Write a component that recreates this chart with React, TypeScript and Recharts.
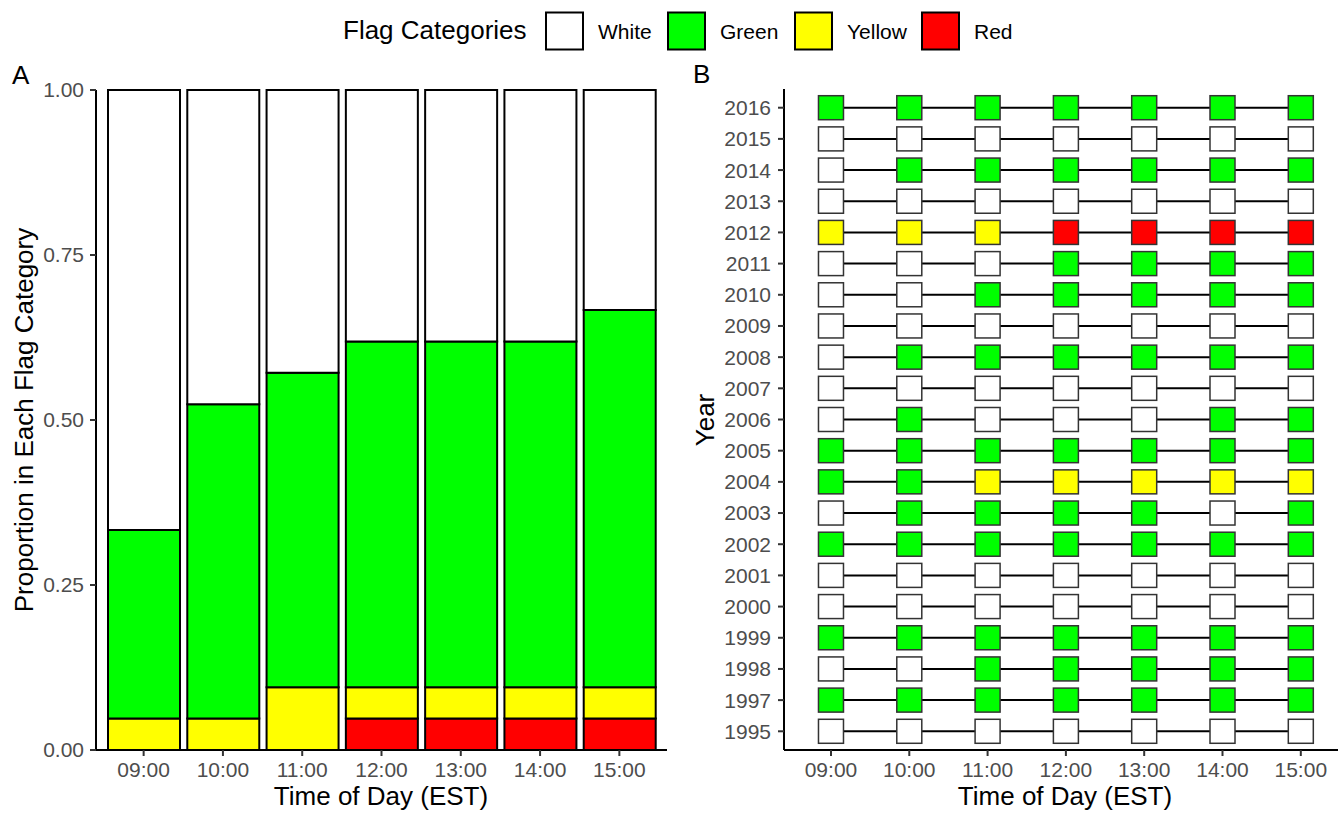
import { Bar, BarChart, Scatter, ScatterChart, XAxis, YAxis } from "recharts";

const times = ["09:00", "10:00", "11:00", "12:00", "13:00", "14:00", "15:00"];

const years = [
  "1995", "1997", "1998", "1999", "2000", "2001", "2002",
  "2003", "2004", "2005", "2006", "2007", "2008", "2009",
  "2010", "2011", "2012", "2013", "2014", "2015", "2016",
];

// one letter per hour of the day: W white, G green, Y yellow, R red
const flagRows = [
  "WWWWWWW", // 1995
  "GGGGGGG", // 1997
  "WWGGGGG", // 1998
  "GGGGGGG", // 1999
  "WWWWWWW", // 2000
  "WWWWWWW", // 2001
  "GGGGGGG", // 2002
  "WGGGGWG", // 2003
  "GGYYYYY", // 2004
  "GGGGGGG", // 2005
  "WGWWWGG", // 2006
  "WWWWWWW", // 2007
  "WGGGGGG", // 2008
  "WWWWWWW", // 2009
  "WWGGGGG", // 2010
  "WWWGGGG", // 2011
  "YYYRRRR", // 2012
  "WWWWWWW", // 2013
  "WGGGGGG", // 2014
  "WWWWWWW", // 2015
  "GGGGGGG", // 2016
];

const categories = ["White", "Green", "Yellow", "Red"];
const categoryCodes = ["W", "G", "Y", "R"];
const proportionTicks = [0, 0.25, 0.5, 0.75, 1];

const flagColors: Record<string, string> = {
  W: "#FFFFFF",
  G: "#00FF00",
  Y: "#FFFF00",
  R: "#FF0000",
};

const FONT = "'Liberation Sans', Arial, sans-serif";
const TICK = { fill: "#4D4D4D", fontSize: 21, fontFamily: FONT };
const AXIS_LINE = { stroke: "#000", strokeWidth: 2 };
const TICK_LINE = { stroke: "#333", strokeWidth: 2 };

const share = (i: number, code: string) =>
  flagRows.filter((row) => row[i] === code).length / flagRows.length;

const proportionData = times.map((time, i) => ({
  time,
  red: share(i, "R"),
  yellow: share(i, "Y"),
  green: share(i, "G"),
  white: share(i, "W"),
}));

const FlagSquare = (props: any) => {
  const { cx, cy, payload } = props;
  if (cx == null || cy == null) return null;
  return (
    <rect
      x={cx - 12.5}
      y={cy - 12}
      width={25}
      height={24}
      fill={flagColors[payload.flag]}
      stroke="#333"
      strokeWidth={1.5}
    />
  );
};

function Labels() {
  const keyX = [546, 668, 795, 922];
  const text = { fontFamily: FONT, fill: "#000" };
  return (
    <svg
      width={1338}
      height={813}
      style={{ position: "absolute", left: 0, top: 0, pointerEvents: "none" }}
    >
      <text x={343} y={39} fontSize={26} {...text}>
        Flag Categories
      </text>
      {categories.map((name, i) => (
        <g key={name}>
          <rect
            x={keyX[i]}
            y={12.5}
            width={37}
            height={37}
            fill={flagColors[categoryCodes[i]]}
            stroke="#000"
            strokeWidth={2}
          />
          <text x={keyX[i] + 52} y={38.5} fontSize={21} {...text}>
            {name}
          </text>
        </g>
      ))}

      <text x={12} y={84} fontSize={26} {...text}>
        A
      </text>
      <text x={693} y={83} fontSize={26} {...text}>
        B
      </text>

      <text x={381} y={805} fontSize={26} textAnchor="middle" {...text}>
        Time of Day (EST)
      </text>
      <text x={1065} y={805} fontSize={26} textAnchor="middle" {...text}>
        Time of Day (EST)
      </text>

      <text
        transform="translate(33 420) rotate(-90)"
        fontSize={26}
        textAnchor="middle"
        {...text}
      >
        Proportion in Each Flag Category
      </text>
      <text
        transform="translate(714 420) rotate(-90)"
        fontSize={26}
        textAnchor="middle"
        {...text}
      >
        Year
      </text>
    </svg>
  );
}

export default function App() {
  return (
    <div
      style={{
        position: "absolute",
        left: 0,
        top: 0,
        width: 1338,
        height: 813,
        background: "#fff",
        fontFamily: FONT,
      }}
    >
      <div style={{ position: "absolute", left: 0, top: 0 }}>
        <BarChart
          width={690}
          height={813}
          data={proportionData}
          margin={{ top: 90, right: 23, bottom: 0, left: 0 }}
          barSize={72}
        >
          <XAxis
            dataKey="time"
            padding={{ left: 8, right: 8 }}
            height={63}
            tick={TICK}
            tickSize={6}
            tickMargin={6}
            axisLine={AXIS_LINE}
            tickLine={TICK_LINE}
            interval={0}
          />
          <YAxis
            type="number"
            domain={[0, 1]}
            ticks={proportionTicks}
            width={96}
            tick={TICK}
            tickSize={6}
            tickMargin={6}
            axisLine={AXIS_LINE}
            tickLine={TICK_LINE}
            tickFormatter={(v: number) => v.toFixed(2)}
          />
          <Bar dataKey="red" stackId="f" fill={flagColors.R} stroke="#000" strokeWidth={2} isAnimationActive={false} />
          <Bar dataKey="yellow" stackId="f" fill={flagColors.Y} stroke="#000" strokeWidth={2} isAnimationActive={false} />
          <Bar dataKey="green" stackId="f" fill={flagColors.G} stroke="#000" strokeWidth={2} isAnimationActive={false} />
          <Bar dataKey="white" stackId="f" fill={flagColors.W} stroke="#000" strokeWidth={2} isAnimationActive={false} />
        </BarChart>
      </div>

      <div style={{ position: "absolute", left: 690, top: 0 }}>
        <ScatterChart
          width={648}
          height={813}
          margin={{ top: 89, right: 0, bottom: 0, left: 0 }}
        >
          <XAxis
            type="number"
            dataKey="x"
            domain={[-0.6, 6.475]}
            ticks={times.map((_, i) => i)}
            allowDataOverflow
            height={63}
            tick={TICK}
            tickSize={6}
            tickMargin={6}
            axisLine={AXIS_LINE}
            tickLine={TICK_LINE}
            tickFormatter={(i: number) => times[i] ?? ""}
          />
          <YAxis
            type="number"
            dataKey="y"
            domain={[-0.6, 20.6]}
            ticks={years.map((_, i) => i)}
            allowDataOverflow
            width={94}
            interval={0}
            tick={TICK}
            tickSize={6}
            tickMargin={7}
            axisLine={AXIS_LINE}
            tickLine={TICK_LINE}
            tickFormatter={(i: number) => years[i] ?? ""}
          />
          {flagRows.map((row, y) => (
            <Scatter
              key={years[y]}
              data={times.map((time, x) => ({ x, y, time, flag: row[x] }))}
              line={{ stroke: "#000", strokeWidth: 2 }}
              fill="#000"
              shape={FlagSquare}
              isAnimationActive={false}
            />
          ))}
        </ScatterChart>
      </div>

      <Labels />
    </div>
  );
}
